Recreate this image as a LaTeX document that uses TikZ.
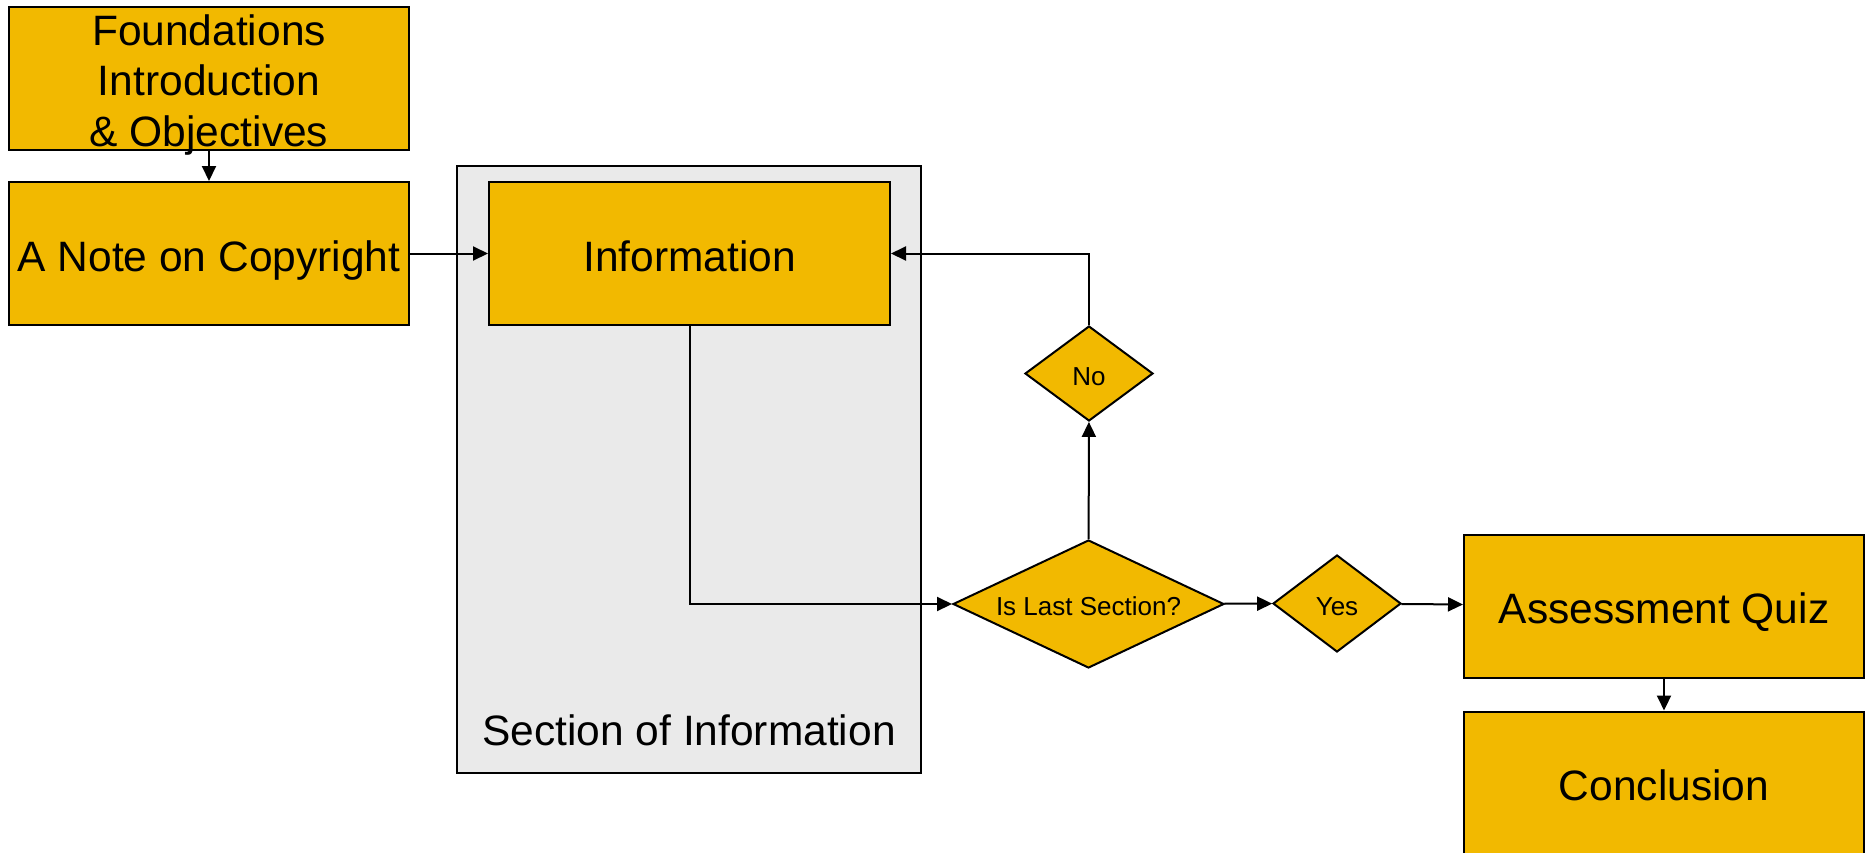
\documentclass[tikz,border=0pt]{standalone}
\usepackage{fontspec}
\setmainfont{Liberation Sans}
\usetikzlibrary{shapes.geometric,arrows.meta}
\definecolor{amarelo}{RGB}{242,185,0}
\definecolor{cinza}{RGB}{234,234,234}

\begin{document}
\begin{tikzpicture}[x = 1pt, y = -1pt, line width = 2pt, >={Triangle[length=15pt,width=14pt]},
	etapa/.style = {fill=amarelo,draw,minimum width=400pt,minimum height=143pt,inner sep=0pt,font=\fontsize{42.5}{50.5}\selectfont,text height=35pt,text depth=0pt},
	decisao/.style = {fill=amarelo,draw,diamond,inner sep=0pt,font=\fontsize{26}{30}\selectfont,text height=23pt,text depth=0pt},]
		\useasboundingbox (0,0) rectangle (1865,852);
		\node[draw,fill=cinza,minimum width=464pt,minimum height=607pt] (S) at (689,469.5) {};
		\node[font=\fontsize{42.5}{50.5}\selectfont,anchor=base] (St) at (689,745) {Section of Information};

		\node[etapa,label={[align=center,font=\fontsize{42.5}{50.5}\selectfont,yshift=-7pt]center:Foundations\\Introduction\\\& Objectives}] (F) at (209,78) {};
		\node[etapa] (N) at (209,253.5) {A Note on Copyright};
		\node[etapa,minimum width=401pt] (I) at (689.5,253.5) {Information};
		\node[decisao,aspect=2.1,minimum width=271pt,minimum height=128pt] (D) at (1088.5,604) {Is Last Section?};
		\node[decisao,minimum width=128pt,minimum height=95pt] (No) at (1089,373.5) {No};
		\node[decisao,minimum width=128pt,minimum height=97pt] (Y) at (1337,603.5) {Yes};
		\node[etapa] (Q) at (1664,606) {Assessment Quiz};
		\node[etapa] (C) at (1664,783) {Conclusion};

		\draw[->] (F) -- (N);
		\draw[->] (N) -- (I);
		\draw[->] (I) |- (D);
		\draw[->] (D) -- (No);
		\draw[->] (No) |- (I);
		\draw[->] (D) -- (Y);
		\draw[->] (Y) -- (Q);
		\draw[->] (Q) -- (C);
	\end{tikzpicture}
\end{document}
